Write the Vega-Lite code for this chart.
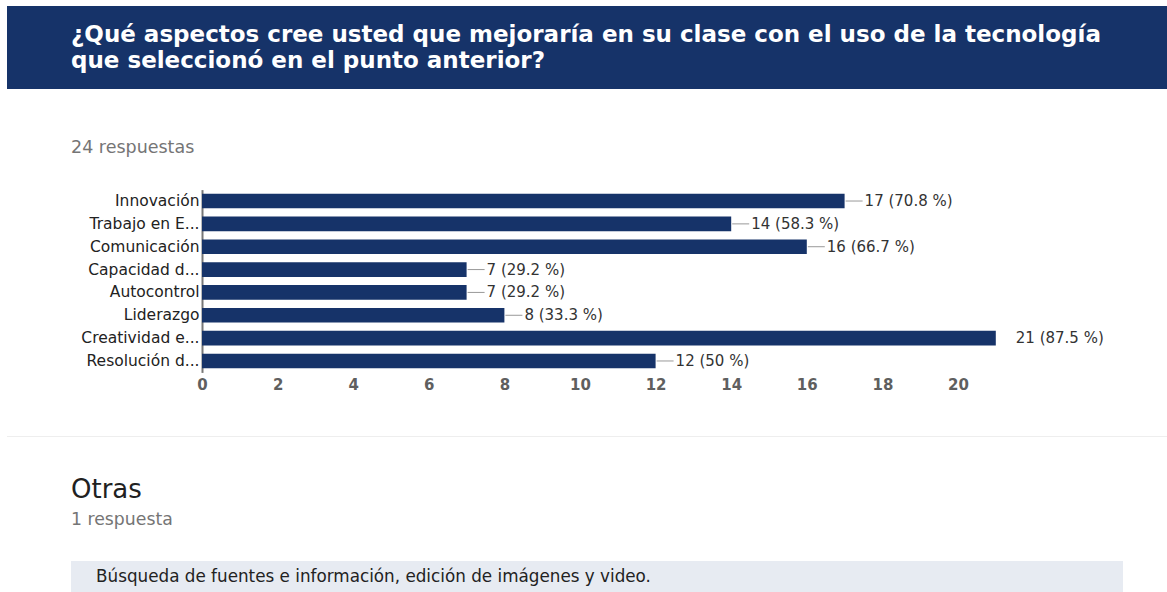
{
  "$schema": "https://vega.github.io/schema/vega-lite/v6.json",
  "background": "white",
  "padding": {"left": 7, "top": 6, "right": 0, "bottom": 0},
  "bounds": "flush",
  "spacing": 0,
  "config": {
    "font": "DejaVu Sans",
    "view": {"stroke": null},
    "title": {"font": "DejaVu Sans", "anchor": "start", "frame": "group"}
  },
  "vconcat": [
    {
      "width": 1160,
      "height": 83,
      "view": {"fill": "#163369", "stroke": null},
      "data": {"values": [
        {"orden": 1, "linea": "¿Qué aspectos cree usted que mejoraría en su clase con el uso de la tecnología"},
        {"orden": 2, "linea": "que seleccionó en el punto anterior?"}
      ]},
      "mark": {"type": "text", "align": "left", "baseline": "alphabetic", "fontSize": 23, "fontWeight": "bold", "color": "#ffffff"},
      "encoding": {
        "x": {"datum": 0, "type": "quantitative", "scale": {"domain": [0, 1], "range": [64, 1160]}, "axis": null},
        "y": {"field": "orden", "type": "ordinal", "scale": {"type": "point", "range": [36, 62], "padding": 0}, "axis": null},
        "text": {"field": "linea"}
      }
    },
    {
      "width": 1160,
      "height": 71,
      "data": {"values": []},
      "mark": {"type": "point"},
      "encoding": {}
    },
    {
      "width": 1160,
      "height": 276,
      "title": {"text": "24 respuestas", "dx": 64, "offset": 4, "fontSize": 17.5, "fontWeight": "normal", "color": "#757575"},
      "data": {"values": [
        {"aspecto": "Innovación", "respuestas": 17, "etiqueta": "17 (70.8 %)"},
        {"aspecto": "Trabajo en E...", "respuestas": 14, "etiqueta": "14 (58.3 %)"},
        {"aspecto": "Comunicación", "respuestas": 16, "etiqueta": "16 (66.7 %)"},
        {"aspecto": "Capacidad d...", "respuestas": 7, "etiqueta": "7 (29.2 %)"},
        {"aspecto": "Autocontrol", "respuestas": 7, "etiqueta": "7 (29.2 %)"},
        {"aspecto": "Liderazgo", "respuestas": 8, "etiqueta": "8 (33.3 %)"},
        {"aspecto": "Creatividad e...", "respuestas": 21, "etiqueta": "21 (87.5 %)"},
        {"aspecto": "Resolución d...", "respuestas": 12, "etiqueta": "12 (50 %)"}
      ]},
      "encoding": {
        "y": {
          "field": "aspecto", "type": "nominal", "sort": null,
          "scale": {"range": [29.6, 212.4], "paddingInner": 0.357, "paddingOuter": 0.1785},
          "axis": {"title": null, "orient": "left", "offset": -195, "ticks": false, "domainColor": "#777777", "domainWidth": 2, "labelPadding": 3, "labelFontSize": 15.5, "labelColor": "#222222", "labelFont": "DejaVu Sans", "labelLimit": 0}
        },
        "x": {
          "field": "respuestas", "type": "quantitative",
          "scale": {"domain": [0, 21], "range": [195, 988.8], "nice": false, "zero": true},
          "axis": {"title": null, "orient": "bottom", "offset": -63.6, "domain": false, "ticks": false, "grid": false, "labelFlush": false, "labelPadding": 5, "values": [0, 2, 4, 6, 8, 10, 12, 14, 16, 18, 20], "labelFontSize": 15, "labelFontWeight": "bold", "labelColor": "#5f5f5f", "labelFont": "DejaVu Sans"}
        }
      },
      "layer": [
        {"mark": {"type": "bar", "color": "#163369"}},
        {
          "transform": [{"filter": "datum.respuestas < 21"}],
          "mark": {"type": "rule", "color": "#999999", "strokeWidth": 1, "xOffset": 1, "x2Offset": 18},
          "encoding": {"x2": {"field": "respuestas"}}
        },
        {
          "mark": {"type": "text", "align": "left", "baseline": "middle", "dx": 20, "fontSize": 15, "color": "#333333"},
          "encoding": {"text": {"field": "etiqueta"}}
        }
      ]
    },
    {
      "width": 1160,
      "height": 1,
      "view": {"fill": "#eeeeee", "stroke": null},
      "data": {"values": []},
      "mark": {"type": "point"},
      "encoding": {}
    },
    {
      "width": 1160,
      "height": 124,
      "data": {"values": []},
      "mark": {"type": "point"},
      "encoding": {}
    },
    {
      "width": 1160,
      "height": 31,
      "title": {"text": "Otras", "subtitle": "1 respuesta", "dx": 64, "offset": 33, "fontSize": 26, "fontWeight": "normal", "color": "#212121", "subtitleFont": "DejaVu Sans", "subtitleFontSize": 17.3, "subtitleColor": "#757575", "subtitlePadding": 8},
      "data": {"values": [{"respuesta": "Búsqueda de fuentes e información, edición de imágenes y video."}]},
      "encoding": {
        "x": {"datum": 0, "type": "quantitative", "scale": {"domain": [0, 1], "range": [64, 1116]}, "axis": null}
      },
      "layer": [
        {"mark": {"type": "rect", "color": "#e7ebf2"}, "encoding": {"x2": {"datum": 1}}},
        {"mark": {"type": "text", "align": "left", "baseline": "middle", "dx": 25, "fontSize": 16.8, "color": "#222222"}, "encoding": {"text": {"field": "respuesta"}}}
      ]
    }
  ]
}
